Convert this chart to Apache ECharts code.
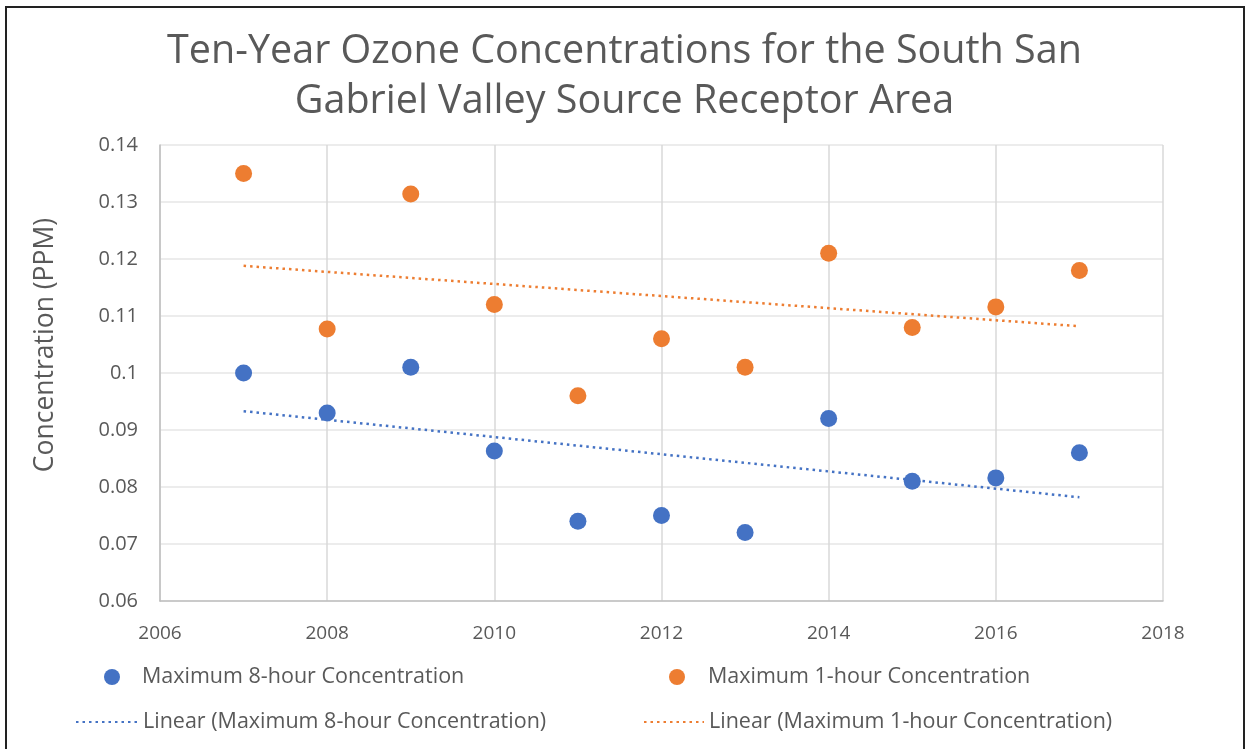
<!DOCTYPE html>
<html>
<head>
<meta charset="utf-8">
<script src="https://cdn.jsdelivr.net/npm/echarts@6/dist/echarts.min.js"></script>
<style>
html,body{margin:0;padding:0;background:#fff;}
#frame{position:absolute;left:5px;top:6px;width:1240px;height:760px;border:2px solid #222;box-sizing:border-box;}
#chart{position:absolute;left:0;top:0;width:1249px;height:749px;}
</style>
</head>
<body>
<div id="frame"></div>
<div id="chart"></div>
<script>
const years = [2007, 2008, 2009, 2010, 2011, 2012, 2013, 2014, 2015, 2016, 2017];
const max8hour = [0.100, 0.093, 0.101, 0.0863, 0.074, 0.075, 0.072, 0.092, 0.081, 0.0816, 0.086];
const max1hour = [0.135, 0.1077, 0.1314, 0.112, 0.096, 0.106, 0.101, 0.121, 0.108, 0.1116, 0.118];
const trendYears = [2007, 2017];
const trend8hour = [0.0933, 0.0782];
const trend1hour = [0.1188, 0.1082];
const titleLines = ['Ten-Year Ozone Concentrations for the South San', 'Gabriel Valley Source Receptor Area'];
const seriesNames = ['Maximum 8-hour Concentration', 'Maximum 1-hour Concentration',
  'Linear (Maximum 8-hour Concentration)', 'Linear (Maximum 1-hour Concentration)'];
const yAxisName = 'Concentration (PPM)';

const FONT = '"Open Sans", Lato, sans-serif';
const TXT = '#595959';
const BLUE = '#4472C4';
const ORANGE = '#ED7D31';

const pairs = (xs, ys) => xs.map((x, i) => [x, ys[i]]);

const chart = echarts.init(document.getElementById('chart'), null, {renderer: 'canvas'});
const legendText = {color: TXT, fontSize: 21.5, fontFamily: FONT};
chart.setOption({
  backgroundColor: 'transparent',
  animation: false,
  textStyle: {fontFamily: FONT},
  title: {
    text: titleLines.join('\n'),
    left: 'center',
    top: 22,
    padding: [5, 5, 5, 17],
    textStyle: {color: TXT, fontSize: 39.5, fontWeight: 'normal', fontFamily: FONT, lineHeight: 50}
  },
  grid: {left: 160, right: 86, top: 145, bottom: 148, containLabel: false},
  xAxis: {
    type: 'value', min: 2006, max: 2018, interval: 2,
    axisLine: {show: true, lineStyle: {color: '#bfbfbf', width: 1.5}},
    axisTick: {show: false},
    splitLine: {show: true, lineStyle: {color: '#d9d9d9', width: 1.5}},
    axisLabel: {color: TXT, fontSize: 19, fontFamily: FONT, margin: 23, formatter: v => String(v)}
  },
  yAxis: {
    type: 'value', min: 0.06, max: 0.14, interval: 0.01,
    name: yAxisName, nameLocation: 'middle', nameGap: 101,
    nameTextStyle: {color: TXT, fontSize: 26.5, fontFamily: FONT, padding: [0, 0, 0, 56]},
    axisLine: {show: true, lineStyle: {color: '#bfbfbf', width: 1.5}},
    axisTick: {show: false},
    splitLine: {show: true, lineStyle: {color: '#e6e6e6', width: 1.5}},
    axisLabel: {color: TXT, fontSize: 20, fontFamily: FONT, margin: 22,
      formatter: v => String(parseFloat(v.toFixed(2)))}
  },
  legend: [
    {data: [seriesNames[0]], left: 99, top: 661, itemWidth: 16, itemHeight: 16, icon: 'circle',
     textStyle: Object.assign({padding: [0, 0, 0, 17]}, legendText)},
    {data: [seriesNames[1]], left: 664, top: 661, itemWidth: 16, itemHeight: 16, icon: 'circle',
     textStyle: Object.assign({padding: [0, 0, 0, 18]}, legendText)},
    {data: [seriesNames[2]], left: 70, top: 706, itemWidth: 62, itemHeight: 16,
     itemStyle: {opacity: 0},
     textStyle: Object.assign({padding: [0, 0, 0, 0]}, legendText)},
    {data: [seriesNames[3]], left: 638, top: 706, itemWidth: 60, itemHeight: 16,
     itemStyle: {opacity: 0},
     textStyle: Object.assign({padding: [0, 0, 0, 0]}, legendText)}
  ],
  series: [
    {name: seriesNames[0], type: 'scatter', data: pairs(years, max8hour), symbol: 'circle', symbolSize: 17,
     itemStyle: {color: BLUE, opacity: 1}, z: 3},
    {name: seriesNames[1], type: 'scatter', data: pairs(years, max1hour), symbol: 'circle', symbolSize: 17,
     itemStyle: {color: ORANGE, opacity: 1}, z: 3},
    {name: seriesNames[2], type: 'line', data: pairs(trendYears, trend8hour), symbol: 'none',
     lineStyle: {color: BLUE, width: 2.5, type: [2.5, 4]}, itemStyle: {color: BLUE}, z: 2},
    {name: seriesNames[3], type: 'line', data: pairs(trendYears, trend1hour), symbol: 'none',
     lineStyle: {color: ORANGE, width: 2.5, type: [2.5, 4]}, itemStyle: {color: ORANGE}, z: 2}
  ]
});
</script>
</body>
</html>
